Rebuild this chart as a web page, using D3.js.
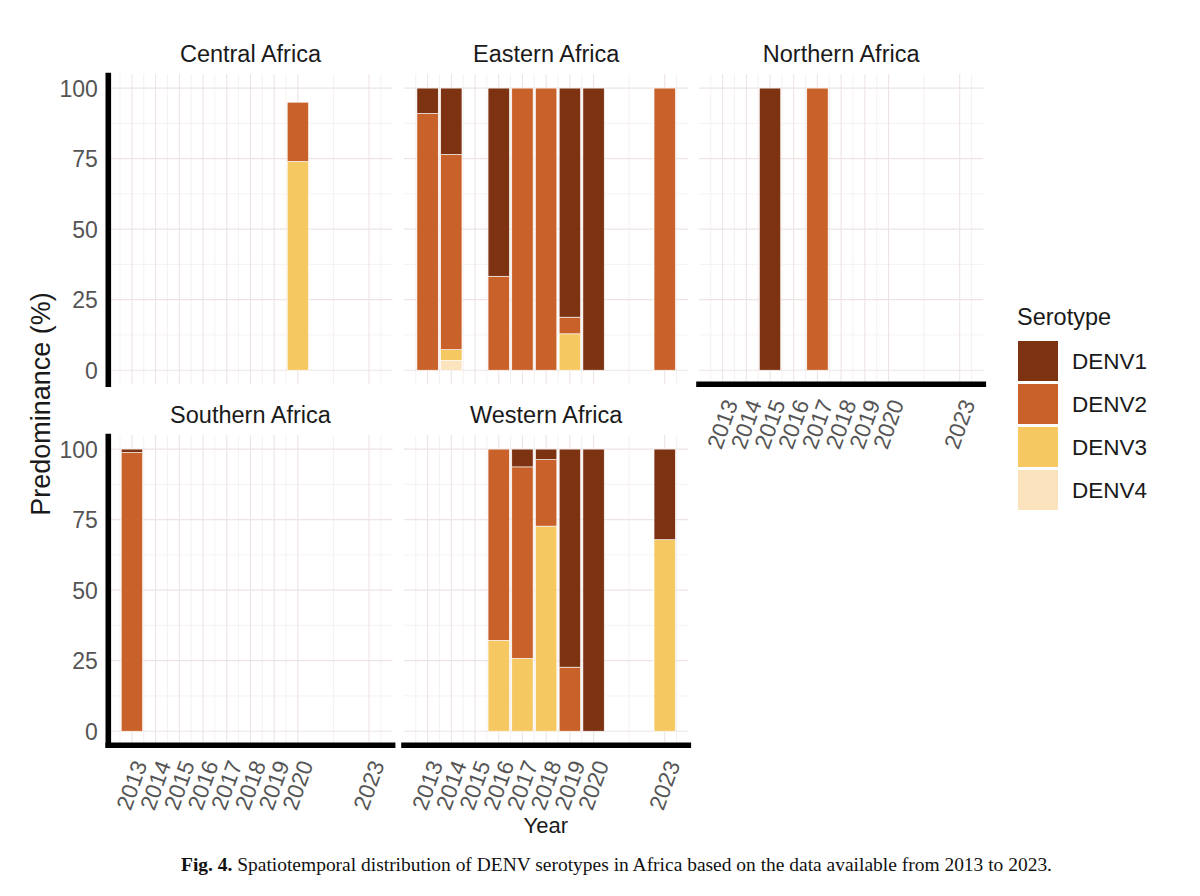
<!DOCTYPE html>
<html><head><meta charset="utf-8">
<script src="https://cdn.jsdelivr.net/npm/d3@7"></script>
<style>html,body{margin:0;padding:0;background:#fff;} svg{display:block;}</style>
</head><body><svg id="chart" width="1200" height="896"></svg>
<script>
// ---------------- DATA ----------------
const serotypes = ["DENV1", "DENV2", "DENV3", "DENV4"];
const serotypeColors = ["#7d3212", "#c9612a", "#f5c862", "#fae3bd"];
const tickYears = [2013, 2014, 2015, 2016, 2017, 2018, 2019, 2020, 2023];
const yTicks = [0, 25, 50, 75, 100];
const regionNames = ["Central Africa", "Eastern Africa", "Northern Africa", "Southern Africa", "Western Africa"];

// rows: [year, DENV1, DENV2, DENV3, DENV4] (% predominance)
const centralAfrica = [
  [2020, 0, 21, 74, 0]
];
const easternAfrica = [
  [2013, 9, 91, 0, 0],
  [2014, 23.5, 69.2, 3.8, 3.5],
  [2016, 66.7, 33.3, 0, 0],
  [2017, 0, 100, 0, 0],
  [2018, 0, 100, 0, 0],
  [2019, 81.2, 5.9, 12.9, 0],
  [2020, 100, 0, 0, 0],
  [2023, 0, 100, 0, 0]
];
const northernAfrica = [
  [2015, 100, 0, 0, 0],
  [2017, 0, 100, 0, 0]
];
const southernAfrica = [
  [2013, 1.2, 98.8, 0, 0]
];
const westernAfrica = [
  [2016, 0, 67.8, 32.2, 0],
  [2017, 6.3, 67.9, 25.8, 0],
  [2018, 3.7, 23.6, 72.7, 0],
  [2019, 77.3, 22.7, 0, 0],
  [2020, 100, 0, 0, 0],
  [2023, 32.1, 0, 67.9, 0]
];
const regionData = [centralAfrica, easternAfrica, northernAfrica, southernAfrica, westernAfrica];

// ---------------- LAYOUT ----------------
const svg = d3.select("#chart");
const FONT = "'Liberation Sans', Arial, Helvetica, sans-serif";
const colLeft = [108.3, 404, 699];
const rowTop = [74, 435];
const panelW = 284.3, panelH = 310.3;
const barHalf = 0.45;
const panels = [
  {col: 0, row: 0, yLab: true,  xLab: false, left: true,  bottom: false},
  {col: 1, row: 0, yLab: false, xLab: false, left: false, bottom: false},
  {col: 2, row: 0, yLab: false, xLab: true,  left: false, bottom: true},
  {col: 0, row: 1, yLab: true,  xLab: true,  left: true,  bottom: true},
  {col: 1, row: 1, yLab: false, xLab: true,  left: false, bottom: true}
];

// x domain: all years, bar half width, 5% expansion
const allYears = regionData.flat().map(r => r[0]);
const xMin = d3.min(allYears) - barHalf, xMax = d3.max(allYears) + barHalf;
const xPad = (xMax - xMin) * 0.05;
const xDomain = [xMin - xPad, xMax + xPad];
const yDomain = [-5, 105];

const majorX = tickYears;
const minorX = [];
for (let i = 0; i < tickYears.length - 1; i++) minorX.push((tickYears[i] + tickYears[i + 1]) / 2);
minorX.push(tickYears[0] - 0.5, tickYears[tickYears.length - 1] + 0.5);
const minorY = [];
for (let i = 0; i < yTicks.length - 1; i++) minorY.push((yTicks[i] + yTicks[i + 1]) / 2);

const stack = d3.stack().keys(["DENV4", "DENV3", "DENV2", "DENV1"]).value((d, k) => d[k]);
const color = d3.scaleOrdinal().domain(serotypes).range(serotypeColors);

panels.forEach((p, i) => {
  const x0 = colLeft[p.col], y0 = rowTop[p.row];
  const x = d3.scaleLinear().domain(xDomain).range([x0, x0 + panelW]);
  const y = d3.scaleLinear().domain(yDomain).range([y0 + panelH, y0]);
  const g = svg.append("g");

  // grid
  const gg = g.append("g");
  gg.selectAll(".mnx").data(minorX.filter(v => v > xDomain[0] && v < xDomain[1])).join("line")
    .attr("x1", d => x(d)).attr("x2", d => x(d)).attr("y1", y0).attr("y2", y0 + panelH)
    .attr("stroke", "#f5eeee").attr("stroke-width", 0.8);
  gg.selectAll(".mny").data(minorY).join("line")
    .attr("x1", x0).attr("x2", x0 + panelW).attr("y1", d => y(d)).attr("y2", d => y(d))
    .attr("stroke", "#f5eeee").attr("stroke-width", 0.8);
  gg.selectAll(".mjx").data(majorX).join("line")
    .attr("x1", d => x(d)).attr("x2", d => x(d)).attr("y1", y0).attr("y2", y0 + panelH)
    .attr("stroke", "#eee4e4").attr("stroke-width", 1.1);
  gg.selectAll(".mjy").data(yTicks).join("line")
    .attr("x1", x0).attr("x2", x0 + panelW).attr("y1", d => y(d)).attr("y2", d => y(d))
    .attr("stroke", "#eee4e4").attr("stroke-width", 1.1);

  // bars
  const rows = regionData[i].map(r => ({year: r[0], DENV1: r[1], DENV2: r[2], DENV3: r[3], DENV4: r[4]}));
  const series = stack(rows);
  g.append("g").selectAll("g").data(series).join("g")
    .attr("fill", s => color(s.key))
    .selectAll("rect").data(s => s.filter(d => d[1] - d[0] > 0)).join("rect")
    .attr("x", d => x(d.data.year - barHalf))
    .attr("width", d => x(d.data.year + barHalf) - x(d.data.year - barHalf))
    .attr("y", d => y(d[1]))
    .attr("height", d => y(d[0]) - y(d[1]))
    .attr("stroke", "#ffffff").attr("stroke-width", 0.6);

  // title
  g.append("text").attr("x", x0 + panelW / 2).attr("y", y0 - 12)
    .attr("text-anchor", "middle").attr("font-family", FONT).attr("font-size", 23.5)
    .attr("fill", "#1a1a1a").text(regionNames[i]);

  // axis lines
  if (p.left) {
    g.append("line").attr("x1", x0).attr("x2", x0).attr("y1", y0 + 1.5).attr("y2", y0 + panelH)
      .attr("stroke", "#000").attr("stroke-width", 5.6).attr("stroke-linecap", "square");
  }
  if (p.bottom) {
    g.append("line").attr("x1", x0).attr("x2", x0 + panelW)
      .attr("y1", y0 + panelH).attr("y2", y0 + panelH)
      .attr("stroke", "#000").attr("stroke-width", 5.6).attr("stroke-linecap", "square");
  }

  // y tick labels
  if (p.yLab) {
    const ya = d3.axisLeft(y).tickValues(yTicks).tickSize(0).tickPadding(0);
    const ag = g.append("g").attr("transform", `translate(${x0 - 10.5},0)`).call(ya);
    ag.select(".domain").remove();
    ag.selectAll("text").attr("font-family", FONT).attr("font-size", 23).attr("fill", "#555555")
      .attr("dy", "0.36em");
  }
  // x tick labels
  if (p.xLab) {
    const xa = d3.axisBottom(x).tickValues(tickYears).tickFormat(d3.format("d")).tickSize(0);
    const ag = g.append("g").attr("transform", `translate(0,${y0 + panelH + 13.5})`).call(xa);
    ag.select(".domain").remove();
    ag.selectAll("text").attr("font-family", FONT).attr("font-size", 22.5).attr("fill", "#555555")
      .attr("text-anchor", "end").attr("y", 0).attr("dy", "0.72em")
      .attr("transform", "rotate(-70)");
  }
});

// axis titles
svg.append("text").attr("x", (colLeft[0] + colLeft[2] + panelW) / 2).attr("y", 833)
  .attr("text-anchor", "middle").attr("font-family", FONT).attr("font-size", 22)
  .attr("fill", "#1a1a1a").text("Year");
svg.append("text").attr("transform", `translate(50,404) rotate(-90)`)
  .attr("text-anchor", "middle").attr("font-family", FONT).attr("font-size", 27)
  .attr("fill", "#1a1a1a").text("Predominance (%)");

// legend
const lg = svg.append("g");
lg.append("text").attr("x", 1017).attr("y", 325).attr("font-family", FONT).attr("font-size", 23.5)
  .attr("fill", "#1a1a1a").text("Serotype");
serotypes.forEach((s, i) => {
  const ky = 341 + i * 43;
  lg.append("rect").attr("x", 1018).attr("y", ky).attr("width", 40).attr("height", 40)
    .attr("fill", color(s));
  lg.append("text").attr("x", 1072).attr("y", ky + 20).attr("dy", "0.36em")
    .attr("font-family", FONT).attr("font-size", 22.5).attr("fill", "#1a1a1a").text(s);
});

// caption
const cap = svg.append("text").attr("x", 181).attr("y", 871)
  .attr("font-family", "'Liberation Serif', 'Times New Roman', serif").attr("font-size", 19)
  .attr("fill", "#111").attr("textLength", 871).attr("lengthAdjust", "spacingAndGlyphs");
cap.append("tspan").attr("font-weight", "bold").text("Fig. 4.");
cap.append("tspan").text("  Spatiotemporal distribution of DENV serotypes in Africa based on the data available from 2013 to 2023.");
</script></body></html>
